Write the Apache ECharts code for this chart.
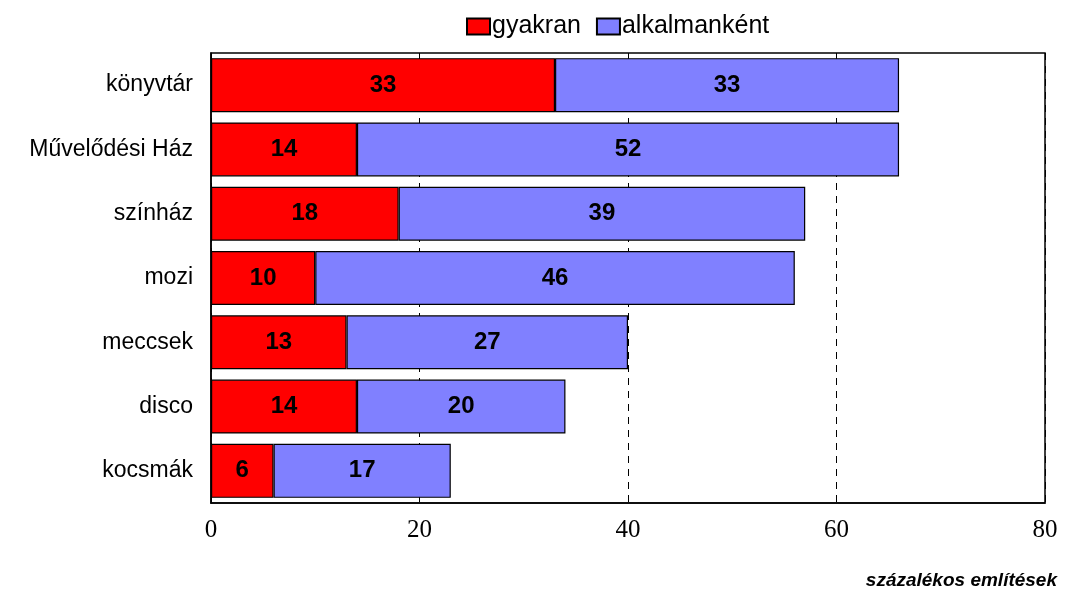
<!DOCTYPE html>
<html>
<head>
<meta charset="utf-8">
<script src="https://cdn.jsdelivr.net/npm/echarts@6/dist/echarts.min.js"></script>
<style>
  html, body { margin: 0; padding: 0; background: #fff; }
  #chart { width: 1065px; height: 592px; }
</style>
</head>
<body>
<div id="chart"></div>
<script>
// helyszínek, felülről lefelé
var categories = ['könyvtár', 'Művelődési Ház', 'színház', 'mozi', 'meccsek', 'disco', 'kocsmák']
var gyakran = [33, 14, 18, 10, 13, 14, 6]
var alkalmankent = [33, 52, 39, 46, 27, 20, 17]
var xTicks = [0, 20, 40, 60, 80]

var myChart = echarts.init(document.getElementById('chart'))

var labelStyle = {
  show: true,
  position: 'inside',
  color: '#000',
  fontFamily: 'Liberation Sans, Arial, sans-serif',
  fontWeight: 'bold',
  fontSize: 24
}

var option = {
  animation: false,
  title: {
    text: 'százalékos említések',
    right: 3,
    top: 566,
    textStyle: {
      fontFamily: 'Liberation Sans, Arial, sans-serif',
      fontSize: 19,
      fontWeight: 'bold',
      fontStyle: 'italic',
      color: '#000'
    }
  },
  legend: {
    top: 9,
    left: 461,
    icon: 'rect',
    itemWidth: 23,
    itemHeight: 16,
    itemGap: 15,
    textStyle: {
      fontFamily: 'Liberation Sans, Arial, sans-serif',
      fontSize: 25,
      color: '#000',
      padding: [0, 0, 0, -3]
    },
    data: ['gyakran', 'alkalmanként']
  },
  grid: {
    left: 211,
    right: 20,
    top: 53,
    bottom: 89,
    show: true,
    borderColor: '#000',
    borderWidth: 1.5
  },
  xAxis: {
    type: 'value',
    min: 0,
    max: 80,
    interval: 20,
    axisLine: { show: true, lineStyle: { color: '#000', width: 1.5 } },
    axisTick: { show: false },
    axisLabel: {
      color: '#000',
      fontFamily: 'Liberation Serif, Times New Roman, serif',
      fontSize: 25,
      margin: 15,
      formatter: function (v) { return xTicks.indexOf(v) >= 0 ? String(v) : '' }
    },
    splitLine: {
      show: true,
      lineStyle: { color: '#000', type: [7, 6], width: 1 }
    }
  },
  yAxis: {
    type: 'category',
    inverse: true,
    data: categories,
    axisLine: { show: true, lineStyle: { color: '#000', width: 1.5 } },
    axisTick: { show: false },
    axisLabel: {
      color: '#000',
      fontFamily: 'Liberation Sans, Arial, sans-serif',
      fontSize: 23,
      margin: 18
    }
  },
  series: [
    {
      name: 'gyakran',
      type: 'bar',
      stack: 'total',
      barWidth: '84%',
      data: gyakran,
      label: labelStyle,
      itemStyle: { color: '#FF0000', borderColor: '#000', borderWidth: 1.2 }
    },
    {
      name: 'alkalmanként',
      type: 'bar',
      stack: 'total',
      barWidth: '84%',
      data: alkalmankent,
      label: labelStyle,
      itemStyle: { color: '#8080FF', borderColor: '#000', borderWidth: 1.2 }
    }
  ]
}

myChart.setOption(option)
window.addEventListener('resize', function () {
  myChart.resize()
})
</script>
</body>
</html>
